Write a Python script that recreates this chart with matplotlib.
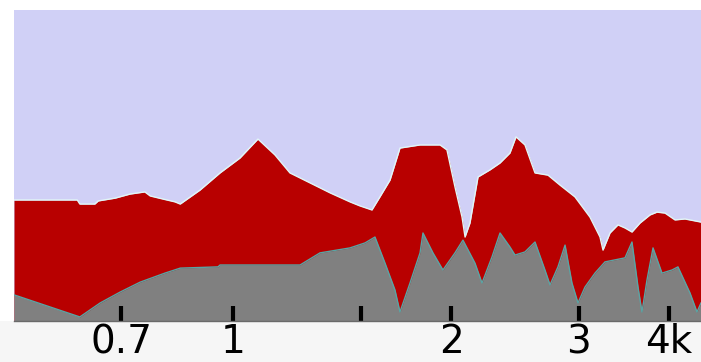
import matplotlib
matplotlib.use("Agg")
import matplotlib.pyplot as plt
from matplotlib.patches import Rectangle
from matplotlib.ticker import FixedLocator, FixedFormatter, NullLocator

# frequency (kHz) and level of the upper (red) envelope
red_freq = [0.498, 0.609, 0.614, 0.644, 0.651, 0.687, 0.720, 0.755, 0.768, 0.800,
            0.831, 0.845, 0.900, 0.959, 1.022, 1.082, 1.142, 1.198, 1.277, 1.361,
            1.450, 1.497, 1.555, 1.595, 1.647, 1.700, 1.812, 1.931, 1.974, 2.025,
            2.071, 2.091, 2.124, 2.179, 2.264, 2.337, 2.412, 2.459, 2.530, 2.612,
            2.722, 2.828, 2.966, 3.111, 3.212, 3.243, 3.316, 3.401, 3.478, 3.556,
            3.648, 3.766, 3.850, 3.950, 4.077, 4.209, 4.429]
red_level = [38.9, 38.9, 37.6, 37.6, 38.6, 39.5, 40.8, 41.5, 40.2, 39.2,
             38.3, 37.6, 42.1, 47.6, 52.4, 58.5, 53.4, 47.6, 44.4, 41.2,
             38.3, 37.0, 35.7, 39.9, 45.3, 55.6, 56.6, 56.6, 55.0, 43.1,
             33.4, 27.0, 31.5, 46.3, 48.6, 50.8, 54.0, 59.2, 56.6, 47.6,
             46.9, 43.7, 39.9, 33.4, 27.0, 22.8, 28.3, 30.9, 29.9, 28.6,
             31.5, 34.1, 35.0, 34.7, 32.5, 32.8, 31.8]

# frequency (kHz) and level of the lower (gray) curve
gray_freq = [0.498, 0.614, 0.655, 0.698, 0.744, 0.805, 0.845, 0.953, 0.959, 1.237,
             1.318, 1.450, 1.521, 1.570, 1.621, 1.673, 1.700, 1.755, 1.812, 1.829,
             1.888, 1.949, 2.025, 2.077, 2.158, 2.207, 2.278, 2.337, 2.412, 2.451,
             2.530, 2.612, 2.696, 2.740, 2.810, 2.874, 2.938, 2.995, 3.062, 3.161,
             3.263, 3.478, 3.556, 3.625, 3.671, 3.730, 3.802, 3.912, 4.039, 4.116,
             4.277, 4.373, 4.429]
gray_level = [8.4, 1.3, 5.8, 9.3, 12.5, 15.4, 17.0, 17.4, 18.0, 18.0,
              21.9, 23.5, 25.1, 27.0, 18.6, 10.0, 2.9, 12.2, 21.9, 28.3,
              21.9, 16.4, 21.9, 26.0, 18.6, 12.2, 20.6, 28.3, 23.8, 21.2,
              22.2, 25.4, 16.4, 11.6, 17.4, 24.4, 12.2, 5.8, 10.9, 15.4,
              19.0, 20.3, 25.4, 10.9, 2.9, 13.2, 23.5, 15.4, 16.4, 17.4,
              9.0, 2.9, 5.8]

tick_pos = [0.7, 1, 1.5, 2, 3, 4]
tick_labels = ["0.7", "1", "", "2", "3", "4k"]

fig = plt.figure(figsize=(7.01, 3.62), dpi=100, facecolor="white")
fig.patches.append(Rectangle((0, 0), 1, 0.114, transform=fig.transFigure,
                             facecolor="#f6f6f6", edgecolor="none", zorder=-5))
ax = fig.add_axes([0.02, 0.1133, 0.98, 0.8591])
ax.set_facecolor("#d0d0f6")

ax.fill_between(red_freq, 0, red_level, color="#b80000", lw=0)
ax.plot(red_freq, red_level, color="#e2f6f6", lw=1.0)
ax.fill_between(gray_freq, 0, gray_level, color="#808080", lw=0)
ax.plot(gray_freq, gray_level, color="#5aa4a4", lw=1.0)

ax.set_xscale("log")
ax.set_xlim(0.498, 4.429)
ax.set_ylim(0, 100)

ax.xaxis.set_major_locator(FixedLocator(tick_pos))
ax.xaxis.set_major_formatter(FixedFormatter(tick_labels))
ax.xaxis.set_minor_locator(NullLocator())
ax.tick_params(axis="x", direction="in", length=11, width=3, color="black",
               labelsize=28, pad=1.5)
ax.set_yticks([])
for side in ["top", "left", "right"]:
    ax.spines[side].set_visible(False)
ax.spines["bottom"].set_color("#6a6a6a")
ax.spines["bottom"].set_linewidth(1)

fig.savefig("out.png", dpi=100, facecolor=fig.get_facecolor())
